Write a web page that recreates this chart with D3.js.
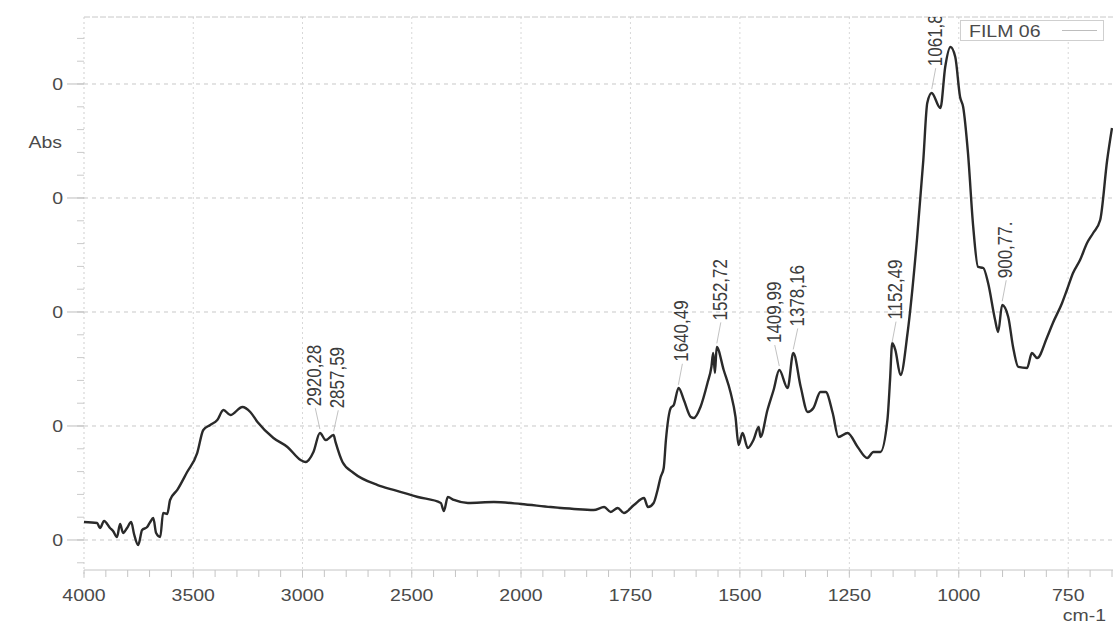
<!DOCTYPE html>
<html>
<head>
<meta charset="utf-8">
<script src="https://cdn.jsdelivr.net/npm/d3@7"></script>
<style>
  html, body { margin: 0; padding: 0; background: #fff; }
  svg { display: block; font-family: "Liberation Sans", Arial, sans-serif; }
</style>
</head>
<body>
<svg id="chart" width="1113" height="625"></svg>
<script>
// FTIR absorbance spectrum of sample FILM 06
const wavenumbers = [
  4000, 3940, 3927, 3908, 3881, 3867, 3849, 3835, 3821, 3803, 3784, 3771, 3752, 3734, 3711, 3697,
  3683, 3670, 3651, 3638, 3619, 3606, 3573, 3528, 3482, 3454, 3422, 3390, 3362, 3330, 3275, 3239,
  3206, 3133, 3069, 3009, 2986, 2950, 2920, 2894, 2858, 2849, 2817, 2766, 2656, 2583, 2472, 2367,
  2353, 2335, 2307, 2243, 2124, 2000, 1932, 1879, 1834, 1810, 1795, 1779, 1765, 1742, 1719, 1710,
  1697, 1688, 1681, 1674, 1669, 1658, 1651, 1640, 1628, 1612, 1605, 1590, 1574, 1565, 1561, 1557,
  1553, 1537, 1521, 1510, 1503, 1494, 1482, 1469, 1457, 1453, 1437, 1423, 1410, 1391, 1378, 1361,
  1345, 1332, 1316, 1304, 1288, 1275, 1254, 1231, 1209, 1195, 1179, 1163, 1157, 1152, 1145, 1133,
  1117, 1095, 1081, 1072, 1062, 1042, 1031, 1019, 1008, 997, 990, 979, 967, 956, 944, 933,
  917, 910, 901, 887, 876, 864, 844, 833, 821, 798, 785, 764, 753, 739, 723, 707,
  693, 677, 661, 650
];
const absorbance = [
  0.1158, 0.1149, 0.1105, 0.1167, 0.1105, 0.1079, 0.1026, 0.1140, 0.1061, 0.1105, 0.1158, 0.1053, 0.0956, 0.1088, 0.1114, 0.1158,
  0.1193, 0.1061, 0.1026, 0.1237, 0.1228, 0.1351, 0.1439, 0.1596, 0.1763, 0.1965, 0.2009, 0.2053, 0.2140, 0.2096, 0.2167, 0.2123,
  0.2035, 0.1895, 0.1816, 0.1702, 0.1684, 0.1772, 0.1939, 0.1877, 0.1921, 0.1860, 0.1684, 0.1588, 0.1482, 0.1439, 0.1377, 0.1325,
  0.1254, 0.1377, 0.1351, 0.1325, 0.1333, 0.1316, 0.1289, 0.1272, 0.1263, 0.1289, 0.1246, 0.1281, 0.1237, 0.1307, 0.1368, 0.1289,
  0.1325, 0.1439, 0.1553, 0.1632, 0.1877, 0.2158, 0.2184, 0.2333, 0.2228, 0.2079, 0.2070, 0.2167, 0.2377, 0.2520, 0.2640, 0.2465,
  0.2693, 0.2491, 0.2289, 0.2079, 0.1833, 0.1939, 0.1807, 0.1877, 0.1991, 0.1904, 0.2140, 0.2316, 0.2491, 0.2333, 0.2640, 0.2342,
  0.2123, 0.2158, 0.2298, 0.2298, 0.2114, 0.1904, 0.1939, 0.1816, 0.1719, 0.1772, 0.1772, 0.2053, 0.2404, 0.2728, 0.2667, 0.2447,
  0.2816, 0.3658, 0.4333, 0.4833, 0.4921, 0.4789, 0.5149, 0.5325, 0.5237, 0.4886, 0.4798, 0.4395, 0.3746, 0.3395, 0.3386, 0.3254,
  0.2930, 0.2825, 0.3061, 0.2956, 0.2693, 0.2518, 0.2509, 0.2640, 0.2596, 0.2781, 0.2904, 0.3079, 0.3193, 0.3342, 0.3456, 0.3605,
  0.3693, 0.3807, 0.4333, 0.4614
];

// Axis ticks and labels
const xTickValues = [4000, 3500, 3000, 2500, 2000, 1750, 1500, 1250, 1000, 750];
const yTickValues = [0.1, 0.2, 0.3, 0.4, 0.5];
const yTickLabels = ["0", "0", "0", "0", "0"];

// Peak annotations
const peakPositions = [2920.28, 2857.59, 1640.49, 1552.72, 1409.99, 1378.16, 1152.49, 1061.8, 900.77];
const peakLabels = ["2920,28", "2857,59", "1640,49", "1552,72", "1409,99", "1378,16", "1152,49", "1061,8", "900,77."];

const seriesName = "FILM 06";
const xAxisTitle = "cm-1";
const yAxisTitle = "Abs";

// ---- layout ----
const W = 1113, H = 625;
const plot = { left: 84, right: 1113, top: 17, bottom: 570 };
const textStretch = 1.18;   // glyphs of this printout run wide

const svg = d3.select("#chart");
svg.append("rect").attr("width", W).attr("height", H).attr("fill", "#fff");

// Wavenumber axis is expanded 2x below 2000 cm-1
const x = d3.scaleLinear()
  .domain([4000, 2000, 650])
  .range([plot.left, 521, 1112]);
const y = d3.scaleLinear()
  .domain([0.07368, 0.55877])
  .range([plot.bottom, plot.top]);

const grid = svg.append("g");

// horizontal dashed grid lines
grid.selectAll("line.hg").data(yTickValues).join("line")
  .attr("x1", plot.left).attr("x2", plot.right)
  .attr("y1", d => y(d)).attr("y2", d => y(d))
  .attr("stroke", "#c8c8c8").attr("stroke-width", 1)
  .attr("stroke-dasharray", "4,4");

// vertical dotted grid lines
grid.selectAll("line.vg").data(xTickValues.slice(1)).join("line")
  .attr("x1", d => x(d)).attr("x2", d => x(d))
  .attr("y1", plot.top).attr("y2", plot.bottom + 8)
  .attr("stroke", "#d8d8d8").attr("stroke-width", 1)
  .attr("stroke-dasharray", "2,3");

// frame: top, left (dotted) and bottom axis line
grid.append("line")
  .attr("x1", plot.left).attr("x2", plot.right).attr("y1", plot.top).attr("y2", plot.top)
  .attr("stroke", "#c8c8c8").attr("stroke-dasharray", "6,2");
grid.append("line")
  .attr("x1", plot.left).attr("x2", plot.left).attr("y1", plot.top).attr("y2", plot.bottom + 8)
  .attr("stroke", "#cfcfcf").attr("stroke-dasharray", "2,3");
grid.append("line")
  .attr("x1", plot.left).attr("x2", plot.right).attr("y1", plot.bottom).attr("y2", plot.bottom)
  .attr("stroke", "#c4c4c4");

// x minor ticks: 100 cm-1 above 2000, 50 cm-1 below
const xMinor = d3.range(4000, 2000, -100).concat(d3.range(2000, 649, -50));
grid.selectAll("line.xm").data(xMinor).join("line")
  .attr("x1", d => x(d)).attr("x2", d => x(d))
  .attr("y1", plot.bottom).attr("y2", plot.bottom + 7)
  .attr("stroke", "#c4c4c4");

// y minor and major ticks
const yMinor = d3.range(0.08, 0.56, 0.02);
grid.selectAll("line.ym").data(yMinor).join("line")
  .attr("x1", plot.left - 7).attr("x2", plot.left)
  .attr("y1", d => y(d)).attr("y2", d => y(d))
  .attr("stroke", "#cacaca");
grid.selectAll("line.yM").data(yTickValues).join("line")
  .attr("x1", plot.left - 17).attr("x2", plot.left)
  .attr("y1", d => y(d)).attr("y2", d => y(d))
  .attr("stroke", "#bdbdbd");

// tick labels
const txt = svg.append("g").attr("fill", "#4a4a4a").attr("font-size", 16.5);
txt.selectAll("g.xl").data(xTickValues).join("g")
  .attr("transform", d => `translate(${x(d)},601) scale(${textStretch},1)`)
  .append("text").attr("text-anchor", "middle").text(d => d);
txt.selectAll("g.yl").data(yTickValues).join("g")
  .attr("transform", d => `translate(63,${y(d) + 6}) scale(${textStretch},1)`)
  .append("text").attr("text-anchor", "end").text((d, i) => yTickLabels[i]);
txt.append("g").attr("transform", `translate(62,148) scale(${textStretch},1)`)
  .append("text").attr("text-anchor", "end").text(yAxisTitle);
txt.append("g").attr("transform", `translate(1106,621) scale(${textStretch},1)`)
  .append("text").attr("text-anchor", "end").text(xAxisTitle);

// ---- spectrum ----
svg.append("clipPath").attr("id", "plotclip")
  .append("rect")
  .attr("x", plot.left).attr("y", plot.top)
  .attr("width", plot.right - plot.left).attr("height", plot.bottom - plot.top);

const points = wavenumbers.map((w, i) => [w, absorbance[i]]);
const line = d3.line().x(d => x(d[0])).y(d => y(d[1])).curve(d3.curveMonotoneX);

const plotArea = svg.append("g").attr("clip-path", "url(#plotclip)");
plotArea.append("path")
  .datum(points)
  .attr("d", line)
  .attr("fill", "none")
  .attr("stroke", "#2a2a2a")
  .attr("stroke-width", 2.4)
  .attr("stroke-linejoin", "round");

// ---- peak labels ----
const asc = points.slice().sort((a, b) => a[0] - b[0]);
const bis = d3.bisector(d => d[0]).left;
function absAt(w) {
  const i = Math.max(1, Math.min(asc.length - 1, bis(asc, w)));
  const a = asc[i - 1], b = asc[i];
  const t = (w - a[0]) / (b[0] - a[0]);
  return a[1] + t * (b[1] - a[1]);
}

const peaks = peakPositions.map((w, i) => ({
  w, label: peakLabels[i], px: x(w), py: y(absAt(w))
}));
peaks.forEach(p => { p.cx = p.px + 4; });
// spread labels that would overlap
const minGap = 23;
const byX = peaks.slice().sort((a, b) => a.px - b.px);
for (let i = 1; i < byX.length; i++) {
  const a = byX[i - 1], b = byX[i];
  if (b.cx - a.cx < minGap) {
    const mid = (a.px + b.px) / 2;
    a.cx = mid - minGap / 2;
    b.cx = mid + minGap / 2;
  }
}

const ann = plotArea.append("g");
ann.selectAll("line.lead").data(peaks).join("line")
  .attr("x1", d => d.cx).attr("y1", d => d.py - 25)
  .attr("x2", d => d.px).attr("y2", d => d.py - 4)
  .attr("stroke", "#c2c2c2").attr("stroke-width", 1);
ann.selectAll("g.pl").data(peaks).join("g")
  .attr("transform", d => `translate(${d.cx + 6},${d.py - 27}) scale(1.15,1) rotate(-90)`)
  .append("text")
  .attr("font-size", 17).attr("fill", "#3c3c3c")
  .text(d => d.label);

// ---- legend ----
const lg = svg.append("g");
lg.append("rect")
  .attr("x", 960.5).attr("y", 20.5).attr("width", 143).attr("height", 20)
  .attr("fill", "#fff").attr("stroke", "#cfcfcf");
lg.append("g").attr("transform", `translate(969,37) scale(1.22,1)`)
  .append("text").attr("font-size", 16).attr("fill", "#4a4a4a").text(seriesName);
lg.append("line")
  .attr("x1", 1062).attr("x2", 1097).attr("y1", 30.5).attr("y2", 30.5)
  .attr("stroke", "#bdbdbd").attr("stroke-width", 1);
</script>
</body>
</html>
